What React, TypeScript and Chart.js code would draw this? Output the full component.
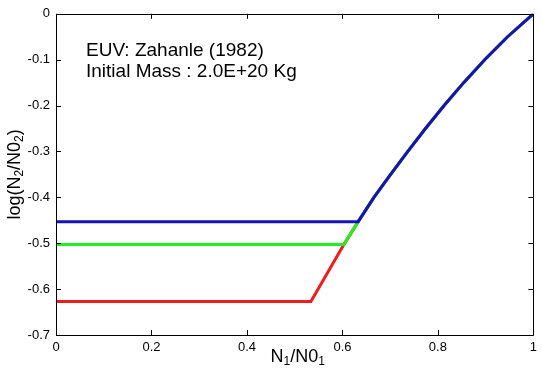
import React, { useEffect, useRef } from "react";
import { Chart, registerables } from "chart.js";

Chart.register(...registerables);

// Shared tail of the curves (N1/N01, log(N2/N02))
const curveX = [0.633, 0.666, 0.701, 0.737, 0.774, 0.813, 0.854, 0.898, 0.946, 1.0];
const curveY = [-0.453, -0.4, -0.35, -0.3, -0.25, -0.2, -0.15, -0.1, -0.05, 0];

const blueX = [0, ...curveX];
const blueY = [-0.453, ...curveY];
const greenX = [0, 0.603, ...curveX];
const greenY = [-0.503, -0.503, ...curveY];
const redX = [0, 0.534, 0.603, ...curveX];
const redY = [-0.627, -0.627, -0.503, ...curveY];

const xTickValues = [0, 0.2, 0.4, 0.6, 0.8, 1];
const yTickValues = [0, -0.1, -0.2, -0.3, -0.4, -0.5, -0.6, -0.7];

const annotationLines = ["EUV: Zahanle (1982)", "Initial Mass : 2.0E+20 Kg"];

const FONT = "'Liberation Sans', Arial, Helvetica, sans-serif";

const toPoints = (xs: number[], ys: number[]) => xs.map((x, i) => ({ x, y: ys[i] }));

function drawSubText(
  ctx: CanvasRenderingContext2D,
  parts: { t: string; sub?: boolean }[],
  size: number,
  subSize: number,
  subShift: number
) {
  let total = 0;
  for (const p of parts) {
    ctx.font = `${p.sub ? subSize : size}px ${FONT}`;
    total += ctx.measureText(p.t).width;
  }
  let x = -total / 2;
  for (const p of parts) {
    ctx.font = `${p.sub ? subSize : size}px ${FONT}`;
    ctx.fillText(p.t, x, p.sub ? subShift : 0);
    x += ctx.measureText(p.t).width;
  }
}

const framePlugin = {
  id: "framePlugin",
  afterDraw(chart: any) {
    const { ctx, chartArea, scales } = chart;
    const { left, right, top, bottom } = chartArea;
    ctx.save();
    ctx.strokeStyle = "#000";
    ctx.lineWidth = 1;
    ctx.beginPath();
    ctx.rect(Math.round(left) + 0.5, Math.round(top) + 0.5, Math.round(right - left), Math.round(bottom - top));
    ctx.stroke();
    const tl = 5;
    ctx.beginPath();
    for (const v of xTickValues) {
      const px = Math.round(scales.x.getPixelForValue(v)) + 0.5;
      ctx.moveTo(px, bottom);
      ctx.lineTo(px, bottom - tl);
      ctx.moveTo(px, top);
      ctx.lineTo(px, top + tl);
    }
    for (const v of yTickValues) {
      const py = Math.round(scales.y.getPixelForValue(v)) + 0.5;
      ctx.moveTo(left, py);
      ctx.lineTo(left + tl, py);
      ctx.moveTo(right, py);
      ctx.lineTo(right - tl, py);
    }
    ctx.stroke();

    // annotation
    ctx.fillStyle = "#000";
    ctx.textAlign = "left";
    ctx.textBaseline = "alphabetic";
    ctx.font = `19px ${FONT}`;
    ctx.fillText(annotationLines[0], 86, 56);
    ctx.fillText(annotationLines[1], 86, 77);

    // x title
    ctx.save();
    ctx.translate((left + right) / 2 + 3, 362);
    drawSubText(
      ctx,
      [{ t: "N" }, { t: "1", sub: true }, { t: "/N0" }, { t: "1", sub: true }],
      18,
      12,
      3
    );
    ctx.restore();

    // y title
    ctx.save();
    ctx.translate(19.5, (top + bottom) / 2);
    ctx.rotate(-Math.PI / 2);
    drawSubText(
      ctx,
      [{ t: "log(N" }, { t: "2", sub: true }, { t: "/N0" }, { t: "2", sub: true }, { t: ")" }],
      18,
      12,
      3
    );
    ctx.restore();

    ctx.restore();
  },
};

export default function App() {
  const ref = useRef<HTMLCanvasElement | null>(null);

  useEffect(() => {
    if (!ref.current) return;
    const chart = new Chart(ref.current, {
      type: "scatter",
      data: {
        datasets: [
          {
            label: "blue",
            data: toPoints(blueX, blueY),
            borderColor: "#1414b4",
            backgroundColor: "#1414b4",
          },
          {
            label: "green",
            data: toPoints(greenX, greenY),
            borderColor: "#22ee22",
            backgroundColor: "#22ee22",
          },
          {
            label: "red",
            data: toPoints(redX, redY),
            borderColor: "#ee1c1c",
            backgroundColor: "#ee1c1c",
          },
        ].map((d) => ({ ...d, showLine: true, borderWidth: 3, pointRadius: 0, tension: 0 })),
      },
      options: {
        responsive: false,
        animation: false,
        layout: { padding: { top: 10, right: 7, left: 0, bottom: 0 } },
        plugins: { legend: { display: false }, tooltip: { enabled: false } },
        scales: {
          x: {
            type: "linear",
            min: 0,
            max: 1,
            afterFit: (axis: any) => {
              axis.height = 40;
            },
            afterBuildTicks: (axis: any) => {
              axis.ticks = xTickValues.map((v) => ({ value: v }));
            },
            grid: { display: false, drawTicks: false },
            border: { display: false },
            ticks: {
              padding: 5,
              color: "#000",
              font: { family: FONT, size: 13 },
              maxRotation: 0,
              callback: (v: any) => String(Number(Number(v).toFixed(1))),
            },
          },
          y: {
            type: "linear",
            min: -0.7,
            max: 0,
            afterFit: (axis: any) => {
              axis.width = 56;
            },
            afterBuildTicks: (axis: any) => {
              axis.ticks = yTickValues.map((v) => ({ value: v }));
            },
            grid: { display: false, drawTicks: false },
            border: { display: false },
            ticks: {
              padding: 6,
              color: "#000",
              font: { family: FONT, size: 13 },
              callback: (v: any) => {
                const n = Number(Number(v).toFixed(1));
                return n === 0 ? "0" : String(n);
              },
            },
          },
        },
      },
      plugins: [framePlugin],
    });
    return () => chart.destroy();
  }, []);

  return (
    <div style={{ position: "absolute", left: 0, top: 0, width: 542, height: 375, background: "#fff" }}>
      <canvas ref={ref} width={542} height={375} />
    </div>
  );
}
